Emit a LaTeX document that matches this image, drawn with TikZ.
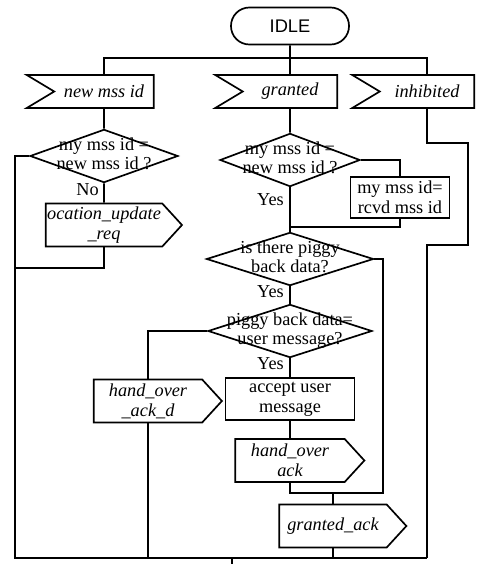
\documentclass[tikz,border=0pt]{standalone}
\usepackage{fontspec}
\setmainfont{Liberation Serif}
\newfontfamily\idlefont{Liberation Sans}
\usetikzlibrary{shapes.geometric, shapes.symbols}

\newcommand{\dtext}[2]{\makebox[0pt]{\begin{tabular}{@{}c@{}}#1\\#2\end{tabular}}}

\tikzset{
  every node/.style={font=\fontsize{13}{14}\selectfont},
  terminal/.style={draw, rounded corners=0.46cm, minimum width=2.95cm, minimum height=0.925cm},
  insig/.style={draw, signal, signal from=west, signal to=nowhere, signal pointer angle=62,
    minimum height=0.825cm, minimum width=#1, inner sep=1pt, font=\fontsize{13}{14}\selectfont\itshape},
  outsig/.style={draw, signal, signal to=east, signal pointer angle=95, align=center,
    minimum height=1.075cm, minimum width=#1, inner sep=1pt, font=\fontsize{13}{14}\selectfont\itshape},
  task/.style={draw, rectangle, align=center, inner sep=1pt},
  decision/.style={draw, diamond, inner sep=0pt, minimum width=#1, minimum height=1.33cm},
  lbl/.style={inner sep=1pt, anchor=east}
}

\begin{document}
\begin{tikzpicture}[x=0.025cm, y=-0.025cm, line width=1.2pt]
  \useasboundingbox (0,0) rectangle (479,564);
  \node[terminal] (idle) at (290,26) {\idlefont IDLE};
  \node[insig=3.175cm] (in1) at (104,91.5) {new mss id};
  \node[insig=3.05cm] (in2) at (290,91.5) {granted};
  \node[insig=3.05cm] (in3) at (427,91.5) {inhibited};
  \coordinate (bus) at (290,58);
  \draw (idle) -- (in2);
  \draw (in1.north) |- (bus) -| (in3.north);

  % new mss id
  \node[decision=3.7cm] (d1) at (104,156) {\dtext{my mss id =}{new mss id ?}};
  \node[outsig=3.2cm] (upd) at (104,225) {ocation\_update\\\_req};
  \node[lbl] (no1) at (101,190) {No};
  \coordinate (bl) at (15,558);
  \coordinate (br) at (427,558);
  \coordinate (m1) at (15,268);
  \draw (in1) -- (d1);
  \draw (d1.west) -| (bl) -- (br);
  \draw (d1) -- (upd);
  \draw (upd.south) |- (m1);

  % granted
  \node[decision=3.5cm] (d2) at (290,160) {\dtext{my mss id =}{new mss id ?}};
  \node[task, minimum width=2.475cm, minimum height=1.025cm] (setid) at (400,197.5) {my mss id=\\rcvd mss id};
  \node[lbl] (yes1) at (286,200) {Yes};
  \coordinate (j2) at (290,227);
  \draw (in2) -- (d2);
  \draw (d2.east) -| (setid.north);
  \draw (setid.south) |- (j2);

  \node[decision=4.175cm] (d3) at (290,259) {\dtext{is there piggy}{back data?}};
  \node[lbl] (yes2) at (286,292) {Yes};
  \node[decision=4.1cm] (d4) at (290,331) {\dtext{piggy back data=}{user message?}};
  \node[lbl] (yes3) at (286,364) {Yes};
  \node[task, minimum width=3.225cm, minimum height=1.05cm] (acc) at (290,399) {accept user\\message};
  \node[outsig=3.2cm] (hod) at (148,401) {hand\_over\\\_ack\_d};
  \node[outsig=3.225cm] (hoa) at (290,460.5) {hand\_over\\ack};
  \node[outsig=3.175cm] (gack) at (333,526) {granted\_ack};
  \coordinate (j3) at (383,493);
  \coordinate (out) at (232,564);
  \draw (d2) -- (d3);
  \draw (d3) -- (d4);
  \draw (d4) -- (acc);
  \draw (acc) -- (hoa);
  \draw (d4.west) -| (hod.north);
  \draw (hod.south) -- (hod.south |- bl);
  \draw (d3.east) -| (j3) -| (hoa.south);
  \draw (gack.north) -- (gack.north |- j3);
  \draw (gack.south) -- (gack.south |- bl);
  \draw (out |- bl) -- (out);

  % inhibited
  \coordinate (i1) at (468,143);
  \coordinate (i2) at (468,245);
  \draw (in3.south) |- (i1) -- (i2) -| (br);
\end{tikzpicture}
\end{document}
